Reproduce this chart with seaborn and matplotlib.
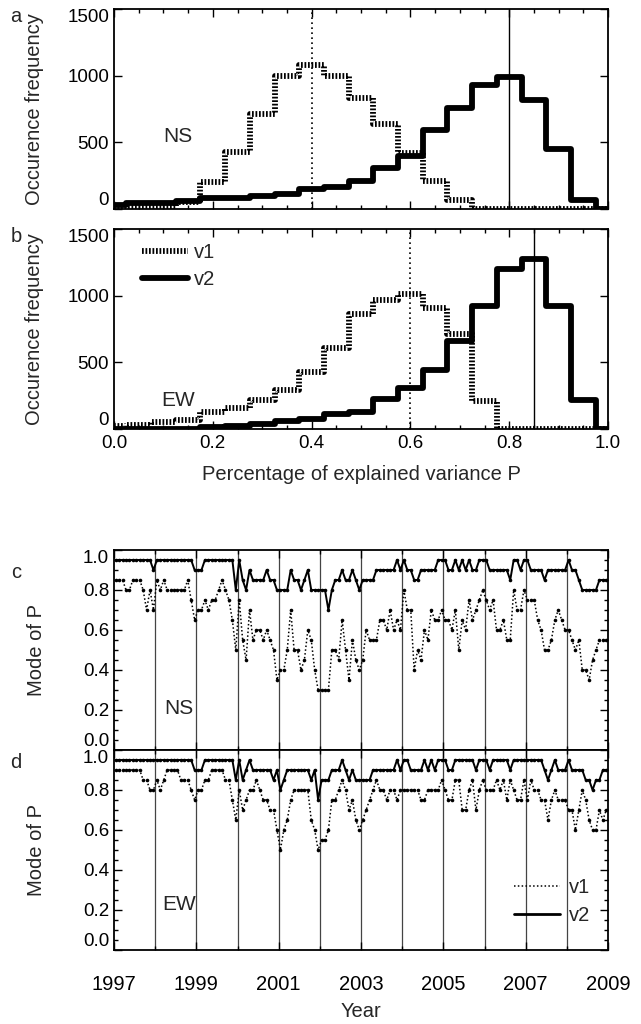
import numpy as np
import pandas as pd
import matplotlib.pyplot as plt
import seaborn as sns
from matplotlib.lines import Line2D
from matplotlib.ticker import MultipleLocator

sns.set_theme(style="ticks")
plt.rcParams['font.family'] = ['Liberation Sans', 'DejaVu Sans']

# Histograms: bin centres of P and counts
p_bins = np.round(np.arange(21) * 0.05, 2)
ns_hist_v1 = [15, 15, 15, 55, 200, 430, 715, 1000, 1080, 1000, 830, 640, 420, 210, 70, 0, 0, 0, 0, 0, 0]
ns_hist_v2 = [30, 45, 45, 60, 80, 80, 100, 115, 150, 165, 210, 310, 400, 590, 760, 930, 990, 820, 450, 70, 0]
ew_hist_v1 = [20, 30, 55, 70, 125, 155, 220, 290, 430, 605, 860, 970, 1015, 910, 710, 210, 0, 0, 0, 0, 0]
ew_hist_v2 = [0, 0, 0, 0, 15, 25, 35, 57, 75, 115, 130, 225, 310, 445, 660, 920, 1200, 1275, 920, 220, 0]
ns_modes = (0.40, 0.80)
ew_modes = (0.60, 0.85)

# Monthly mode of P, 1997-2008
months = 1997 + (np.arange(144) + 0.5) / 12
ns_mode_v1 = [
    .85, .85, .85, .8, .8, .85, .85, .85, .8, .7, .8, .7,
    .85, .8, .85, .8, .8, .8, .8, .8, .8, .85, .75, .65,
    .7, .7, .75, .7, .75, .75, .8, .85, .8, .75, .65, .5,
    .75, .55, .45, .7, .55, .6, .6, .55, .6, .55, .5, .35,
    .4, .4, .5, .7, .5, .5, .4, .45, .6, .55, .4, .3,
    .3, .3, .3, .5, .5, .45, .65, .5, .35, .55, .45, .4,
    .45, .6, .55, .55, .55, .65, .65, .6, .7, .6, .65, .6,
    .8, .7, .7, .4, .5, .45, .6, .55, .7, .65, .65, .7,
    .65, .65, .6, .7, .5, .65, .6, .75, .65, .7, .75, .8,
    .75, .7, .75, .6, .6, .65, .55, .55, .8, .7, .7, .8,
    .75, .75, .75, .65, .6, .5, .5, .55, .65, .7, .65, .6,
    .6, .55, .5, .55, .4, .4, .35, .45, .5, .55, .55, .55]
ns_mode_v2 = [
    .95, .95, .95, .95, .95, .95, .95, .95, .95, .95, .95, .9,
    .95, .95, .95, .95, .95, .95, .95, .95, .95, .95, .95, .9,
    .9, .9, .95, .95, .95, .95, .95, .95, .95, .95, .95, .8,
    .95, .85, .8, .9, .85, .85, .85, .85, .9, .85, .85, .8,
    .8, .8, .8, .9, .85, .85, .8, .85, .9, .8, .8, .8,
    .8, .8, .7, .8, .85, .85, .9, .85, .85, .9, .85, .8,
    .85, .85, .85, .85, .9, .9, .9, .9, .9, .9, .95, .9,
    .95, .9, .9, .85, .85, .9, .9, .9, .9, .9, .95, .95,
    .95, .9, .9, .95, .9, .95, .9, .95, .9, .9, .95, .95,
    .95, .9, .9, .9, .9, .9, .9, .85, .95, .95, .9, .95,
    .95, .9, .9, .9, .9, .85, .9, .9, .9, .9, .9, .9,
    .95, .9, .9, .85, .8, .8, .8, .8, .8, .85, .85, .85]
ew_mode_v1 = [
    .9, .9, .9, .9, .9, .9, .9, .9, .85, .85, .8, .8,
    .85, .8, .85, .9, .9, .9, .9, .85, .85, .85, .8, .75,
    .8, .8, .85, .85, .9, .9, .9, .9, .85, .85, .75, .65,
    .8, .7, .75, .8, .8, .85, .8, .75, .75, .7, .7, .6,
    .5, .6, .65, .75, .8, .8, .8, .8, .8, .65, .6, .5,
    .55, .55, .6, .75, .75, .8, .85, .8, .7, .75, .65, .6,
    .65, .7, .75, .8, .85, .8, .8, .75, .8, .8, .75, .8,
    .8, .8, .8, .8, .8, .75, .75, .8, .8, .8, .8, .85,
    .8, .75, .75, .85, .85, .7, .7, .8, .85, .7, .8, .85,
    .8, .8, .8, .85, .8, .85, .75, .85, .8, .75, .75, .85,
    .75, .85, .8, .8, .75, .75, .65, .75, .8, .75, .75, .75,
    .7, .7, .6, .7, .8, .75, .65, .6, .6, .7, .65, .7]
ew_mode_v2 = [
    .95, .95, .95, .95, .95, .95, .95, .95, .95, .95, .95, .95,
    .95, .95, .95, .95, .95, .95, .95, .95, .95, .95, .95, .9,
    .9, .9, .95, .95, .95, .95, .95, .95, .95, .95, .95, .85,
    .95, .85, .9, .95, .9, .9, .9, .9, .9, .9, .85, .9,
    .8, .85, .9, .9, .9, .9, .9, .9, .9, .85, .9, .75,
    .85, .85, .85, .9, .9, .9, .95, .9, .85, .9, .85, .85,
    .85, .85, .85, .9, .9, .9, .9, .9, .9, .9, .95, .9,
    .95, .95, .9, .9, .9, .9, .95, .9, .95, .9, .95, .95,
    .95, .9, .9, .95, .95, .95, .95, .95, .95, .9, .95, .95,
    .95, .9, .95, .95, .95, .95, .95, .9, .95, .95, .95, .95,
    .95, .95, .95, .95, .95, .9, .85, .9, .95, .9, .9, .9,
    .95, .9, .9, .9, .9, .85, .85, .8, .85, .85, .9, .9]

TICK_FS = 13.5
LAB_FS = 14.5
hatch = (0, (0.3, 0.3))

fig = plt.figure(figsize=(6.41, 10.24), dpi=100)
W, H = 641, 1024
LEFT, RIGHT = 114, 608


def add_axes(top, bottom):
    return fig.add_axes([LEFT / W, 1 - bottom / H, (RIGHT - LEFT) / W, (bottom - top) / H])


ax_a = add_axes(9, 209)
ax_b = add_axes(229, 429)
ax_c = add_axes(550, 750)
ax_d = add_axes(750, 950)


def style_axes(ax, yticks):
    ax.set_facecolor('white')
    for s in ax.spines.values():
        s.set_visible(True)
        s.set_color('black')
        s.set_linewidth(1.3)
    ax.tick_params(which='both', direction='in', top=True, right=True,
                   colors='black', labelsize=TICK_FS, width=1.0)
    ax.tick_params(which='major', length=6)
    ax.tick_params(which='minor', length=3)
    ax.set_yticks(yticks)
    ax.grid(False)


def fix_end_labels(ax):
    labs = ax.get_yticklabels()
    labs[0].set_va('bottom')
    labs[-1].set_va('top')


# Histograms
for ax, h1, h2, modes, name, yname in [
        (ax_a, ns_hist_v1, ns_hist_v2, ns_modes, 'NS', 540),
        (ax_b, ew_hist_v1, ew_hist_v2, ew_modes, 'EW', 215)]:
    df = pd.DataFrame({'P': p_bins, 'v1': h1, 'v2': h2})
    sns.lineplot(data=df, x='P', y='v1', ax=ax, color='black', lw=4.2,
                 drawstyle='steps-mid', linestyle=hatch, errorbar=None)
    sns.lineplot(data=df, x='P', y='v2', ax=ax, color='black', lw=4.2,
                 drawstyle='steps-mid', errorbar=None)
    ax.axvline(modes[0], color='black', lw=1.2, ls=(0, (1, 2)))
    ax.axvline(modes[1], color='black', lw=1.0)
    ax.set_xlim(0, 1)
    ax.set_ylim(0, 1500)
    style_axes(ax, [0, 500, 1000, 1500])
    ax.set_xticks(np.arange(0, 1.01, 0.2))
    ax.xaxis.set_minor_locator(MultipleLocator(0.05))
    ax.set_xlabel('')
    ax.set_ylabel('Occurence frequency', fontsize=LAB_FS)
    ax.yaxis.set_label_coords(-0.142, 0.5)
    ax.text(0.13, yname, name, fontsize=15, ha='center', va='center')
    fix_end_labels(ax)

ax_a.tick_params(labelbottom=False)
ax_b.set_xticklabels(['0.0', '0.2', '0.4', '0.6', '0.8', '1.0'])
ax_b.tick_params(axis='x', pad=4)
ax_b.set_xlabel('Percentage of explained variance P', fontsize=LAB_FS, labelpad=10)

hist_handles = [Line2D([], [], color='black', lw=4.2, linestyle=hatch),
                Line2D([], [], color='black', lw=4.2)]
ax_b.legend(hist_handles, ['v1', 'v2'], loc='upper left', bbox_to_anchor=(0.056, 0.93),
            frameon=False, fontsize=LAB_FS, handlelength=2.3, handletextpad=0.3,
            labelspacing=0.4, borderpad=0, borderaxespad=0)

# Time series of the mode
for ax, m1, m2, name in [(ax_c, ns_mode_v1, ns_mode_v2, 'NS'),
                         (ax_d, ew_mode_v1, ew_mode_v2, 'EW')]:
    df = pd.DataFrame({'t': months, 'v1': m1, 'v2': m2})
    sns.lineplot(data=df, x='t', y='v1', ax=ax, color='black', lw=1.1,
                 linestyle=(0, (1, 1.5)), marker='o', markersize=2.6,
                 markeredgewidth=0, errorbar=None)
    sns.lineplot(data=df, x='t', y='v2', ax=ax, color='black', lw=1.4,
                 marker='o', markersize=2.6, markeredgewidth=0, errorbar=None)
    for yr in range(1998, 2009):
        ax.axvline(yr, color='#444444', lw=0.9, zorder=0)
    ax.set_xlim(1997, 2009)
    ax.set_ylim(0, 1)
    style_axes(ax, [0, 0.2, 0.4, 0.6, 0.8, 1.0])
    ax.set_yticklabels(['0.0', '0.2', '0.4', '0.6', '0.8', '1.0'])
    ax.yaxis.set_minor_locator(MultipleLocator(0.05))
    ax.set_xticks(range(1997, 2010, 2))
    ax.xaxis.set_minor_locator(MultipleLocator(1))
    ax.set_xlabel('')
    ax.set_ylabel('Mode of P', fontsize=LAB_FS)
    ax.yaxis.set_label_coords(-0.138, 0.5)
    ax.text(1998.57, 0.21 if name == 'NS' else 0.225, name, fontsize=15,
            ha='center', va='center')
    fix_end_labels(ax)

ax_c.tick_params(labelbottom=False)
ax_d.set_xticklabels([str(y) for y in range(1997, 2010, 2)])
ax_d.tick_params(axis='x', which='major', labelsize=14.5, pad=18)
ax_d.set_xlabel('Year', fontsize=LAB_FS, labelpad=6)

ts_handles = [Line2D([], [], color='black', lw=1.1, linestyle=(0, (1, 1.5))),
              Line2D([], [], color='black', lw=2.0)]
ax_d.legend(ts_handles, ['v1', 'v2'], loc='upper left', bbox_to_anchor=(0.81, 0.36),
            frameon=False, fontsize=LAB_FS, handlelength=2.3, handletextpad=0.4,
            labelspacing=0.45, borderpad=0, borderaxespad=0)

for letter, (x, y) in zip('abcd', [(16, 17), (16, 237), (16, 573), (16, 762)]):
    fig.text(x / W, 1 - y / H, letter, fontsize=LAB_FS, ha='center', va='center')

fig.savefig('out.png', dpi=100)
